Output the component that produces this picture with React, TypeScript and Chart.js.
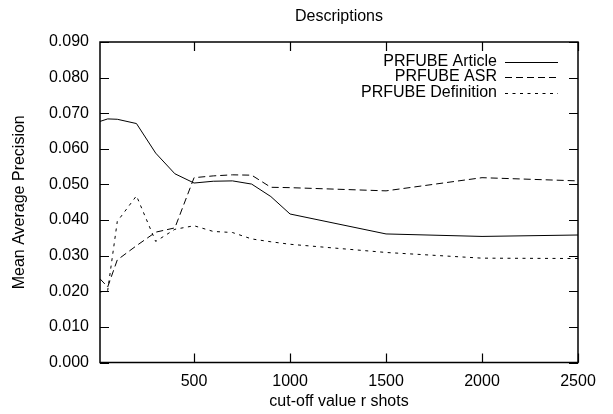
import React, { useEffect, useRef } from "react";
import { Chart, registerables } from "chart.js";

Chart.register(...registerables);

const chartTitle = "Descriptions";
const xAxisTitle = "cut-off value r shots";
const yAxisTitle = "Mean Average Precision";
const cutoffs = [10, 50, 100, 200, 300, 400, 500, 600, 700, 800, 900, 1000, 1500, 2000, 2500];
const articleValues = [0.0677, 0.0684, 0.0683, 0.0671, 0.0588, 0.053, 0.0504, 0.0509, 0.051, 0.0501, 0.0466, 0.0417, 0.0361, 0.0354, 0.0358];
const asrValues = [0.0235, 0.0212, 0.0288, 0.0328, 0.0366, 0.0378, 0.0519, 0.0524, 0.0527, 0.0526, 0.0492, 0.0491, 0.0482, 0.0519, 0.051];
const definitionValues = [0.0198, 0.0202, 0.0396, 0.0468, 0.034, 0.0374, 0.0384, 0.0368, 0.0365, 0.0347, 0.0339, 0.0332, 0.0309, 0.0293, 0.0292];
const seriesNames = ["PRFUBE Article", "PRFUBE ASR", "PRFUBE Definition"];
const xTickValues = [500, 1000, 1500, 2000, 2500];
const yTickValues = [0, 0.01, 0.02, 0.03, 0.04, 0.05, 0.06, 0.07, 0.08, 0.09];

const FONT = "'Liberation Sans', Arial, sans-serif";
const FS = 16;

const framePlugin = {
  id: "gnuplotFrame",
  afterDraw(chart: any) {
    const ctx = chart.ctx;
    const { left, right, top, bottom } = chart.chartArea;
    const xs = chart.scales.x;
    const ys = chart.scales.y;
    ctx.save();
    ctx.strokeStyle = "#000";
    ctx.lineWidth = 1.5;
    ctx.setLineDash([]);
    ctx.strokeRect(left, top, right - left, bottom - top);
    ctx.lineWidth = 1.2;
    const tl = 9;
    ctx.beginPath();
    xTickValues.forEach((v) => {
      const px = Math.round(xs.getPixelForValue(v)) + 0.5;
      ctx.moveTo(px, bottom);
      ctx.lineTo(px, bottom - tl);
      ctx.moveTo(px, top);
      ctx.lineTo(px, top + tl);
    });
    yTickValues.forEach((v) => {
      const py = Math.round(ys.getPixelForValue(v)) + 0.5;
      ctx.moveTo(left, py);
      ctx.lineTo(left + tl, py);
      ctx.moveTo(right, py);
      ctx.lineTo(right - tl, py);
    });
    ctx.stroke();

    // title
    ctx.fillStyle = "#000";
    ctx.font = `${FS}px ${FONT}`;
    ctx.textAlign = "center";
    ctx.textBaseline = "middle";
    ctx.fillText(chartTitle, (left + right) / 2, 17);

    // legend
    const rows = [61.5, 77, 93];
    chart.data.datasets.forEach((ds: any, i: number) => {
      ctx.textAlign = "right";
      ctx.fillText(ds.label, 497, rows[i]);
      ctx.beginPath();
      ctx.lineWidth = 1;
      ctx.setLineDash(ds.borderDash || []);
      ctx.moveTo(505, Math.round(rows[i]) + 0.5);
      ctx.lineTo(558, Math.round(rows[i]) + 0.5);
      ctx.stroke();
    });
    ctx.restore();
  },
};

export default function App() {
  const ref = useRef<HTMLCanvasElement>(null);
  useEffect(() => {
    document.body.style.margin = "0";
    const toPts = (vals: number[]) => cutoffs.map((x, i) => ({ x, y: vals[i] }));
    const chart = new Chart(ref.current!, {
      type: "line",
      data: {
        datasets: [
          { label: seriesNames[0], data: toPts(articleValues), borderColor: "#000", borderWidth: 1, pointRadius: 0, tension: 0 },
          { label: seriesNames[1], data: toPts(asrValues), borderColor: "#000", borderWidth: 1, pointRadius: 0, tension: 0, borderDash: [7, 4] },
          { label: seriesNames[2], data: toPts(definitionValues), borderColor: "#000", borderWidth: 1, pointRadius: 0, tension: 0, borderDash: [3, 4.5] },
        ],
      },
      options: {
        animation: false,
        responsive: false,
        devicePixelRatio: 1,
        layout: { padding: { top: 42, right: 35, left: 0, bottom: 0 } },
        plugins: { legend: { display: false }, tooltip: { enabled: false }, title: { display: false } },
        scales: {
          x: {
            type: "linear",
            min: 10,
            max: 2500,
            grid: { display: false, drawTicks: false },
            border: { display: false },
            afterBuildTicks: (s: any) => {
              s.ticks = xTickValues.map((v) => ({ value: v }));
            },
            afterFit: (s: any) => {
              s.height = 51.5;
            },
            ticks: {
              padding: 9,
              color: "#000",
              font: { family: FONT, size: FS },
              maxRotation: 0,
              callback: (v: any) => String(v),
            },
            title: { display: true, text: xAxisTitle, color: "#000", font: { family: FONT, size: FS }, padding: { top: 0, bottom: 3 } },
          },
          y: {
            min: 0,
            max: 0.09,
            grid: { display: false, drawTicks: false },
            border: { display: false },
            afterBuildTicks: (s: any) => {
              s.ticks = yTickValues.map((v) => ({ value: v }));
            },
            afterFit: (s: any) => {
              s.width = 100;
            },
            ticks: {
              padding: 11,
              color: "#000",
              font: { family: FONT, size: FS },
              callback: (v: any) => Number(v).toFixed(3),
            },
            title: { display: true, text: yAxisTitle, color: "#000", font: { family: FONT, size: FS }, padding: { top: 10, bottom: 0 } },
          },
        },
      },
      plugins: [framePlugin],
    } as any);
    return () => chart.destroy();
  }, []);
  return (
    <div style={{ width: 613, height: 414 }}>
      <canvas ref={ref} width={613} height={414} />
    </div>
  );
}
